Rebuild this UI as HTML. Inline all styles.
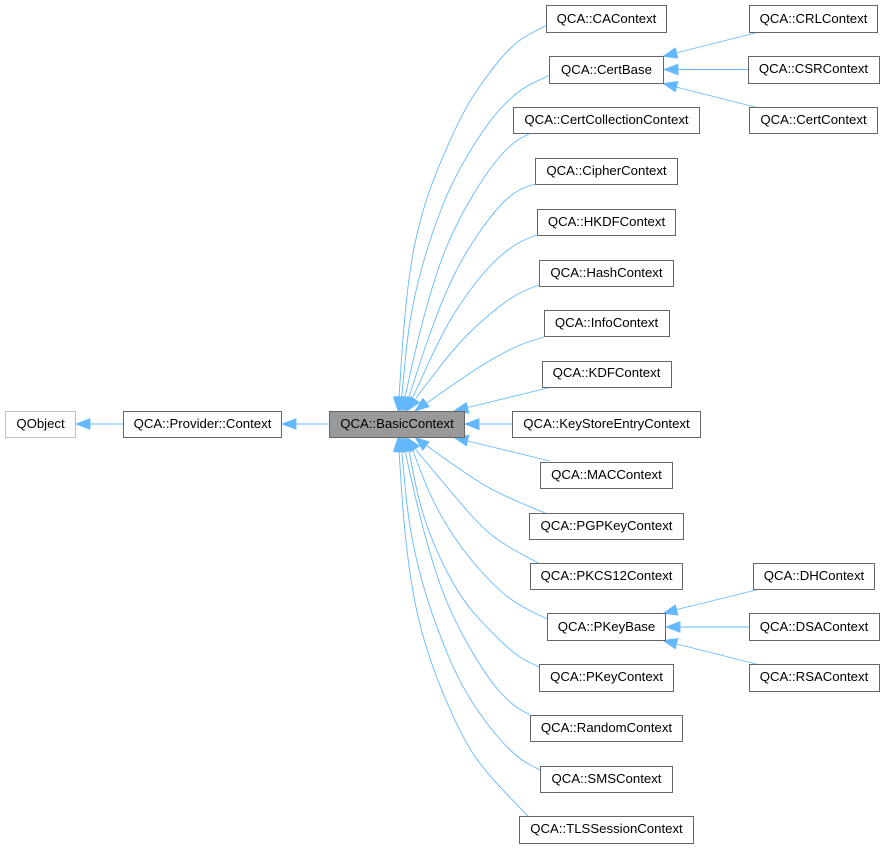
<!DOCTYPE html>
<html>
<head>
<meta charset="utf-8">
<style>
html,body{margin:0;padding:0;background:#fff;}
svg{display:block;}
text{font-family:"Liberation Sans",sans-serif;font-size:13.2px;fill:#000;text-anchor:middle;}
.b{fill:#fff;stroke:#666;stroke-width:1;}
.e{fill:none;stroke:#63b8ff;stroke-width:.9;}
.a{fill:#63b8ff;stroke:#63b8ff;stroke-width:.8;}
</style>
</head>
<body>
<svg width="884" height="848" viewBox="0 0 884 848" xmlns="http://www.w3.org/2000/svg">
<!-- fan edges top -->
<path class="e" d="M546,25.5 L530.5,33.6 Q515,41.7 501,58.4 Q487,75 474.5,94 Q462,113 447.4,146.5 Q432.7,180 426.4,200 Q420,220 415,243.4 Q410,266.7 406.7,298.4 Q403.3,330 401.2,363.5 L399,397"/>
<path class="e" d="M549,75.5 L533.5,82.8 Q518,90 502.5,106.5 Q487,123 469.9,151.5 Q452.7,180 442.9,205 Q433,230 425.5,255 Q418,280 413,305 Q408,330 404.9,363.5 L401.7,397"/>
<path class="e" d="M530,133.5 L521,138 Q512,143 500,156.5 Q488,170 473,195 Q458,220 448,243.5 Q438,267 429,298.5 Q420,330 412.5,363.5 L405,397"/>
<path class="e" d="M535,184 L525.9,187 Q516.7,190 505.9,200 Q495,210 480.9,230 Q466.7,250 455.9,271.5 Q445,293 435,320 Q425,347 417,372 L409,397"/>
<path class="e" d="M536.7,235 L526.7,239 Q516.7,243 505.9,251.5 Q495,260 483.4,273.5 Q471.7,287 458.4,307 Q445,327 429,362 L413,397"/>
<path class="e" d="M539,285 L528.5,289 Q518,293 504.9,302.5 Q491.7,312 474.9,327.5 Q458,343 437,370.5 L416,398"/>
<path class="e" d="M544,337 L531,341 Q518,345 501.5,354 Q485,363 465,376.5 Q445,390 436,396.5 L427,403"/>
<path class="e" d="M550,387.5 L467.6,407.5"/>
<path class="e" d="M512.5,424 L479,424"/>
<path class="e" d="M550,461 L467.6,441"/>
<!-- fan edges bottom -->
<path class="e" d="M545,513 L520,502.5 Q495,492 480,482.5 Q465,473 446,459.5 L427,446"/>
<path class="e" d="M539,563.5 L523.5,555 Q508,547 495,537.5 Q482,528 467,510.5 Q452,493 434,471.5 L416,450"/>
<path class="e" d="M547.5,619 L534.7,613 Q522,607 510,598.5 Q498,590 480,570 Q462,550 447.5,526.5 Q433,503 423,477 L413,451"/>
<path class="e" d="M539.5,667 L528.7,662 Q518,657 505,645 Q492,633 477,616.5 Q462,600 449.5,576.5 Q437,553 428.5,530 Q420,507 414.5,479 L409,451"/>
<path class="e" d="M530,715 L521,710 Q512,705 500.5,692.5 Q489,680 473.5,654 Q458,628 448,604.5 Q438,581 429,549.5 Q420,518 412.5,484.5 L405,451"/>
<path class="e" d="M540,770 L528.5,764 Q517,758 502,741.5 Q487,725 472.5,702.5 Q458,680 445.5,649 Q433,618 425.5,593 Q418,568 413,543 Q408,518 404.9,484.5 L401.7,451"/>
<path class="e" d="M528,816 L506.5,793.8 Q485,771.7 473.5,754.2 Q462,736.7 449.5,708.3 Q437,680 428.5,654 Q420,628 415,602.5 Q410,577 406.7,547.5 Q403.3,518 401.2,484.5 L399,451"/>
<!-- fan arrowheads -->
<polygon class="a" points="398,411 393.5,397 404,397"/>
<polygon class="a" points="399.5,411 395.7,396.5 406.3,397.5"/>
<polygon class="a" points="401,411 398.8,396.2 409.2,398.4"/>
<polygon class="a" points="403,411 403.1,396.1 412.9,399.9"/>
<polygon class="a" points="405,411 407.4,396.4 416.6,401.7"/>
<polygon class="a" points="407,411 410.7,396.5 419.3,402.5"/>
<polygon class="a" points="415,411 422.8,398.3 429.2,406.7"/>
<polygon class="a" points="454,411 466.4,402.7 468.8,413.1"/>
<polygon class="a" points="465,424 479,418.7 479,429.7"/>
<polygon class="a" points="454,437.5 466.4,445.8 468.8,435.4"/>
<polygon class="a" points="415,437.5 422.8,450.2 429.2,441.8"/>
<polygon class="a" points="407,437.5 410.7,452 419.3,446"/>
<polygon class="a" points="405,437.5 407.4,452.1 416.6,446.8"/>
<polygon class="a" points="403,437.5 403.1,452.4 412.9,448.6"/>
<polygon class="a" points="401,437.5 398.8,452.3 409.2,450.1"/>
<polygon class="a" points="399.5,437.5 395.7,452 406.3,451"/>
<polygon class="a" points="398,437.5 393.5,451.5 404,451.5"/>
<!-- left edges -->
<path class="e" d="M329,424 L296,424"/>
<polygon class="a" points="282,424 296,418.7 296,429.3"/>
<path class="e" d="M123,424 L90,424"/>
<polygon class="a" points="76,424 90,418.7 90,429.3"/>
<!-- CertBase children -->
<path class="e" d="M757,32.5 L676,53"/>
<polygon class="a" points="663,56.5 675.3,47.9 677.9,58.1"/>
<path class="e" d="M748.5,69.5 L678,69.5"/>
<polygon class="a" points="664,69.5 678,64.2 678,74.8"/>
<path class="e" d="M757,107.5 L676,87"/>
<polygon class="a" points="663,83.5 677.9,81.5 675.3,91.7"/>
<!-- PKeyBase children -->
<path class="e" d="M758,589.5 L677,609.5"/>
<polygon class="a" points="663,613.5 675.3,604.9 677.9,615.1"/>
<path class="e" d="M749,627 L680,627"/>
<polygon class="a" points="666,627 680,621.7 680,632.3"/>
<path class="e" d="M758,664.5 L677,644"/>
<polygon class="a" points="663,640.5 677.9,638.5 675.3,648.7"/>
<!-- nodes -->
<rect x="5.5" y="411.5" width="70" height="26" fill="#fff" stroke="#bfbfbf"/><text x="40.5" y="428">QObject</text>
<rect class="b" x="123.5" y="411.5" width="158" height="26"/><text x="202.5" y="428">QCA::Provider::Context</text>
<rect x="329.5" y="411.5" width="135" height="26" fill="#999" stroke="#666"/><text x="397" y="428">QCA::BasicContext</text>
<rect class="b" x="546.5" y="5.5" width="120" height="27"/><text x="606.5" y="23">QCA::CAContext</text>
<rect class="b" x="549.5" y="56.5" width="114" height="27"/><text x="606.5" y="74">QCA::CertBase</text>
<rect class="b" x="513.5" y="107.5" width="186" height="26"/><text x="606.5" y="124">QCA::CertCollectionContext</text>
<rect class="b" x="535.5" y="158.5" width="142" height="26"/><text x="606.5" y="175">QCA::CipherContext</text>
<rect class="b" x="537.5" y="209.5" width="138" height="26"/><text x="606.5" y="226">QCA::HKDFContext</text>
<rect class="b" x="539.5" y="260.5" width="134" height="26"/><text x="606.5" y="277">QCA::HashContext</text>
<rect class="b" x="544.5" y="310.5" width="125" height="26"/><text x="606.5" y="327">QCA::InfoContext</text>
<rect class="b" x="542.5" y="361.5" width="129" height="26"/><text x="606.5" y="377">QCA::KDFContext</text>
<rect class="b" x="512.5" y="411.5" width="188" height="26"/><text x="606.5" y="428">QCA::KeyStoreEntryContext</text>
<rect class="b" x="540.5" y="462.5" width="132" height="26"/><text x="606.5" y="479">QCA::MACContext</text>
<rect class="b" x="529.5" y="513.5" width="154" height="26"/><text x="606.5" y="530">QCA::PGPKeyContext</text>
<rect class="b" x="530.5" y="563.5" width="152" height="26"/><text x="606.5" y="580">QCA::PKCS12Context</text>
<rect class="b" x="547.5" y="613.5" width="118" height="27"/><text x="606.5" y="631">QCA::PKeyBase</text>
<rect class="b" x="539.5" y="664.5" width="134" height="27"/><text x="606.5" y="681">QCA::PKeyContext</text>
<rect class="b" x="530.5" y="715.5" width="152" height="26"/><text x="606.5" y="732">QCA::RandomContext</text>
<rect class="b" x="540.5" y="766.5" width="132" height="26"/><text x="606.5" y="783">QCA::SMSContext</text>
<rect class="b" x="519.5" y="816.5" width="174" height="27"/><text x="606.5" y="833">QCA::TLSSessionContext</text>
<rect class="b" x="749.5" y="5.5" width="128" height="27"/><text x="813.5" y="23">QCA::CRLContext</text>
<rect class="b" x="748.5" y="56.5" width="131" height="27"/><text x="813.5" y="73">QCA::CSRContext</text>
<rect class="b" x="749.5" y="107.5" width="128" height="26"/><text x="813.5" y="124">QCA::CertContext</text>
<rect class="b" x="753.5" y="563.5" width="121" height="26"/><text x="814" y="580">QCA::DHContext</text>
<rect class="b" x="749.5" y="613.5" width="130" height="27"/><text x="814" y="631">QCA::DSAContext</text>
<rect class="b" x="749.5" y="664.5" width="130" height="27"/><text x="814" y="681">QCA::RSAContext</text>
</svg>
</body>
</html>
